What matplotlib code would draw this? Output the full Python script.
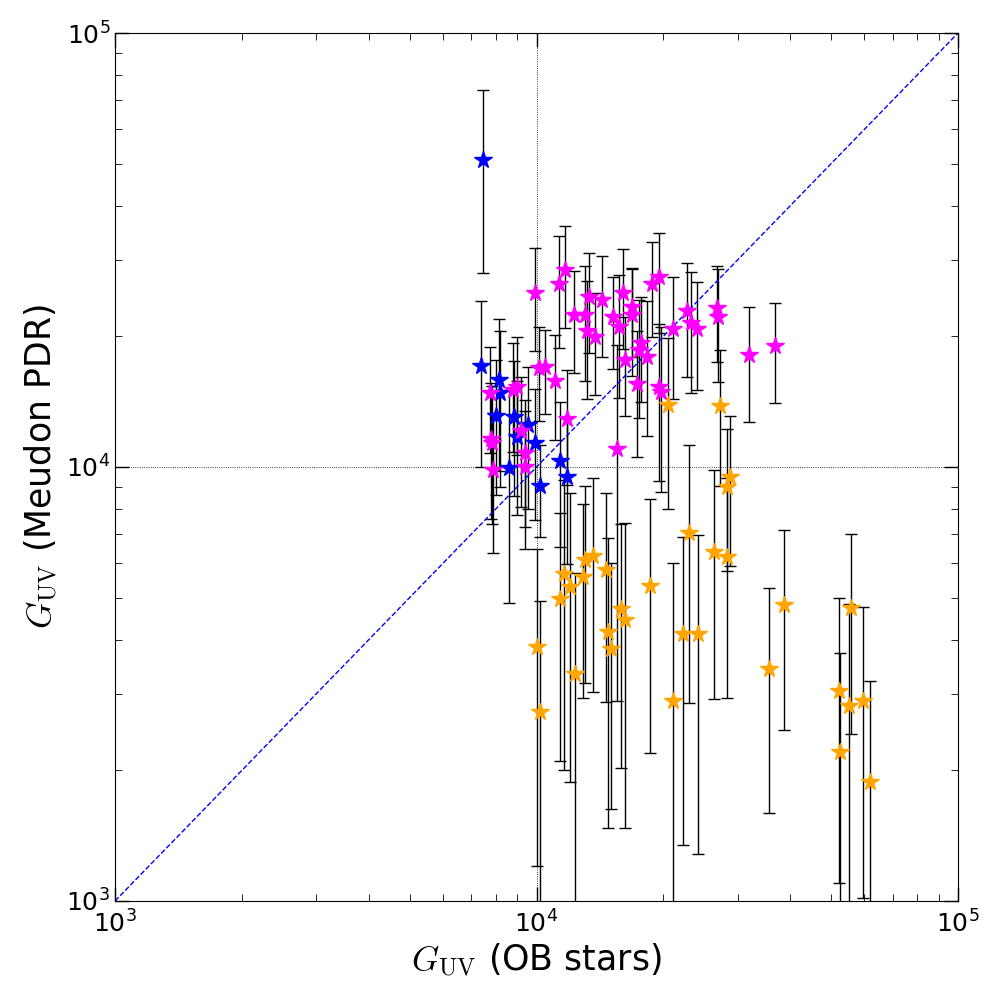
import numpy as np
import matplotlib
matplotlib.use("Agg")
import matplotlib.pyplot as plt

# blue group
blue_x = [7465, 7396, 8158, 8190, 8013, 8843, 9545, 9004, 9935, 8620, 11370, 10190, 11830]
blue_y = [51000, 17090, 15870, 14780, 13110, 13060, 12500, 11740, 11340, 9950, 10340, 9050, 9484]
blue_err = [23000, 7100, 6060, 5800, 4500, 4500, 4500, 4000, 3800, 5100, 3800, 2160, 3500]

# magenta group
mag_x = [7756, 8810, 8975, 10120, 10490, 11080, 11830, 9173, 7785, 7841, 9407, 7871, 9407,
         9902, 11330, 11670, 12270, 13060, 13350, 14300, 13200, 13740, 15210, 16070, 15720,
         16850, 16850, 18790, 19560, 16190, 17670, 17540, 18260, 15500, 17290, 19560, 19780,
         21120, 22720, 23300, 23990, 26850, 26950, 31980, 36860]
mag_y = [14830, 15050, 15270, 16910, 16970, 15810, 12900, 12100, 11580, 11380, 10790, 9840, 9985,
         25210, 26410, 28440, 22400, 22400, 24690, 24260, 20610, 19950, 22120, 25210, 21050,
         23330, 22360, 26410, 27450, 17640, 19340, 18610, 17950, 10990, 15530, 15310, 14890,
         20830, 22850, 21430, 20830, 23250, 22120, 18080, 18970]
mag_err = [4040, 4230, 4630, 4140, 3720, 4300, 3830, 4000, 4000, 4000, 3500, 3500, 3500,
           6700, 7650, 7480, 5940, 6640, 6390, 6380, 6270, 5260, 5330, 6530, 6650,
           5370, 6180, 6530, 7100, 4500, 5240, 5650, 6180, 8100, 5000, 6050, 6130,
           6520, 6710, 6660, 5820, 5790, 6420, 5350, 4960]

# orange group
orange_x = [20510, 27250, 28780, 28270, 22970, 26370, 28270, 13640, 13010, 11620, 12910,
            12010, 14620, 11370, 18590, 15890, 16190, 14780, 15050, 10040, 10190, 12320,
            21120, 22230, 24160, 35670, 38660, 52290, 55040, 55640, 59620, 52480, 61830]
orange_y = [13920, 13820, 9500, 9007, 7060, 6380, 6193, 6237, 6106, 5668, 5568,
            5300, 5789, 4973, 5319, 4700, 4441, 4168, 3813, 3842, 2720, 3335,
            2885, 4121, 4121, 3424, 4809, 3043, 2821, 4728, 2893, 2203, 1878]
orange_err = [5900, 4800, 3585, 3258, 4200, 3460, 3261, 3207, 2934, 3664, 2636,
              3423, 2908, 2871, 3131, 2679, 2971, 2698, 2185, 2640, 2200, 2355,
              3113, 2778, 2841, 1829, 2336, 1940, 2008, 2299, 1875, 1526, 1330]

plt.rcParams["mathtext.fontset"] = "cm"
plt.rcParams["xtick.direction"] = "in"
plt.rcParams["ytick.direction"] = "in"
plt.rcParams["xtick.top"] = True
plt.rcParams["ytick.right"] = True
plt.rcParams["xtick.major.size"] = 10
plt.rcParams["ytick.major.size"] = 10
plt.rcParams["xtick.minor.size"] = 5
plt.rcParams["ytick.minor.size"] = 5
plt.rcParams["xtick.major.width"] = 1
plt.rcParams["ytick.major.width"] = 1

fig = plt.figure(figsize=(10, 10), dpi=100)
ax = fig.add_axes([0.115, 0.099, 0.843, 0.868])

ax.set_xscale("log")
ax.set_yscale("log")

for xs, ys, es, col in [(blue_x, blue_y, blue_err, "blue"),
                        (mag_x, mag_y, mag_err, "magenta"),
                        (orange_x, orange_y, orange_err, "orange")]:
    ys = np.array(ys, dtype=float)
    es = np.array(es, dtype=float)
    # keep lower bars positive on the log axis (they just run off the bottom)
    lower = np.minimum(es, ys * 0.9999)
    ax.errorbar(xs, ys, yerr=[lower, es], fmt="*", color=col, mec=col,
                markersize=13, ecolor="black", elinewidth=1, capsize=4,
                capthick=1)

ax.plot([1e3, 1e5], [1e3, 1e5], "--", color="blue", lw=1)
ax.axvline(1e4, color="black", ls=":", lw=0.6)
ax.axhline(1e4, color="black", ls=":", lw=0.6)

ax.set_xlim(1e3, 1e5)
ax.set_ylim(1e3, 1e5)
ax.tick_params(labelsize=18, which="both")
ax.tick_params(axis="x", pad=7)
ax.set_xlabel(r"$G_{\rm UV}$ (OB stars)", fontsize=25, labelpad=2)
ax.set_ylabel(r"$G_{\rm UV}$ (Meudon PDR)", fontsize=25)

fig.savefig("out.png", dpi=100)
